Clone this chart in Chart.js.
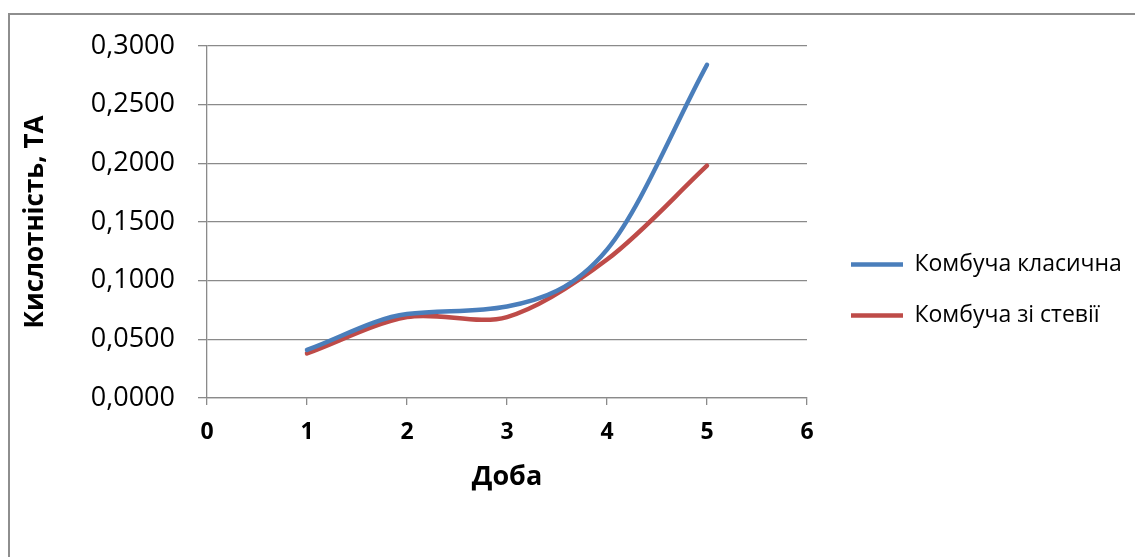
<!DOCTYPE html>
<html>
<head>
<meta charset="utf-8">
<script src="https://cdn.jsdelivr.net/npm/chart.js@4"></script>
<style>
  html, body { margin: 0; padding: 0; background: #fff; }
  #wrap { position: relative; width: 1135px; height: 557px; overflow: hidden; }
  #frame { position: absolute; left: 8px; top: 13px; width: 1200px; height: 600px;
           border-top: 2px solid #8e8e8e; border-left: 2px solid #8e8e8e; box-sizing: border-box; }
  #c { position: absolute; left: 0; top: 0; }
</style>
</head>
<body>
<div id="wrap">
  <div id="frame"></div>
  <canvas id="c" width="1135" height="557"></canvas>
</div>
<script>
// ---- data ----
const days = [1, 2, 3, 4, 5];
const classic = [0.041, 0.0715, 0.078, 0.1265, 0.284];
const stevia = [0.038, 0.069, 0.069, 0.118, 0.198];
const seriesNames = ['Комбуча класична', 'Комбуча зі стевії'];
const xTitle = 'Доба';
const yTitle = 'Кислотність, ТА';
const yTicksMin = 0, yTicksMax = 0.3, yTicksStep = 0.05;
const xTicksMin = 0, xTicksMax = 6, xTicksStep = 1;

// ---- styling / layout ----
const FONT = "'Open Sans', 'Noto Sans', sans-serif";
const gridColor = '#8a8a8a';
const legendFontSize = 23;
const legendPad = 28;
const legendBox = 52;
const legendBoxWidth = 1135 - 823; // legend box from x=823 to right edge

// keep the legend box at a fixed width (Chart.js otherwise caps it)
const legendWidthPlugin = {
  id: 'legendWidth',
  beforeLayout(chart) {
    const lg = chart.legend;
    if (lg && !lg._fixedW) {
      const orig = lg.fit.bind(lg);
      lg.fit = function () { orig(); this.width = legendBoxWidth; };
      lg._fixedW = true;
    }
  }
};

const toPts = arr => days.map((d, i) => ({ x: d, y: arr[i] }));

new Chart(document.getElementById('c'), {
  type: 'line',
  plugins: [legendWidthPlugin],
  data: {
    datasets: [
      { label: seriesNames[0], data: toPts(classic), borderColor: '#4A7EBB', backgroundColor: '#4A7EBB',
        borderWidth: 4.5, pointRadius: 0, cubicInterpolationMode: 'monotone', borderCapStyle: 'round', fill: false },
      { label: seriesNames[1], data: toPts(stevia), borderColor: '#BE4B48', backgroundColor: '#BE4B48',
        borderWidth: 4.5, pointRadius: 0, tension: 0.32, borderCapStyle: 'round', fill: false }
    ]
  },
  options: {
    responsive: false,
    animation: false,
    devicePixelRatio: 1,
    layout: { padding: { left: 16, top: 46, bottom: 23, right: 0 } },
    plugins: {
      tooltip: { enabled: false },
      legend: {
        position: 'right',
        align: 'center',
        labels: {
          usePointStyle: true,
          pointStyle: 'line',
          pointStyleWidth: legendBox,
          padding: legendPad,
          color: '#000',
          font: { family: FONT, size: legendFontSize }
        }
      }
    },
    scales: {
      x: {
        type: 'linear',
        position: 'bottom',
        min: xTicksMin, max: xTicksMax,
        ticks: { stepSize: xTicksStep, color: '#000', padding: 14,
                 font: { family: FONT, size: 23, weight: 'bold' } },
        grid: { drawOnChartArea: false, drawTicks: true, tickLength: 7, color: gridColor, lineWidth: 1.3 },
        border: { display: true, color: gridColor, width: 1.3 },
        title: { display: true, text: xTitle, color: '#000',
                 font: { family: FONT, size: 27, weight: 'bold' }, padding: { top: 0, bottom: 40 } },
        afterFit: s => { s.height = 136; }
      },
      y: {
        type: 'linear',
        position: 'left',
        min: yTicksMin, max: yTicksMax,
        ticks: { stepSize: yTicksStep, color: '#000', padding: 23,
                 font: { family: FONT, size: 27 },
                 callback: v => Number(v).toFixed(4).replace('.', ',') },
        grid: { drawTicks: true, tickLength: 9, color: gridColor, lineWidth: 1.3 },
        border: { display: true, color: gridColor, width: 1.3 },
        title: { display: true, text: yTitle, color: '#000',
                 font: { family: FONT, size: 26, weight: 'bold' }, padding: { top: 4, bottom: 4 } },
        afterFit: s => { s.width = 191; }
      },
      y2: {
        type: 'linear',
        position: 'right',
        display: true,
        ticks: { display: false },
        grid: { display: false, drawTicks: false },
        border: { display: false },
        afterFit: s => { s.width = 16; }
      }
    }
  }
});
</script>
</body>
</html>
